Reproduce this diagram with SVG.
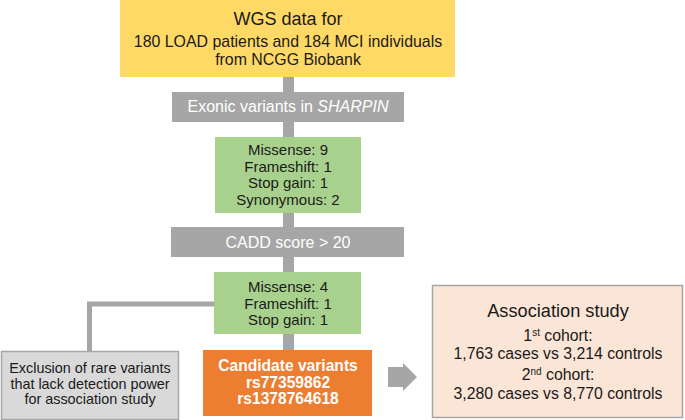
<svg xmlns="http://www.w3.org/2000/svg" width="685" height="420" viewBox="0 0 685 420">
<style>
text{font-family:"Liberation Sans",Arial,sans-serif;text-anchor:middle;fill:#1a1a1a}
.w{fill:#ffffff}
.b{font-weight:bold}
.bar{fill:#a6a6a6}
.con{stroke:#a6a6a6;fill:none}
</style>
<rect width="685" height="420" fill="#ffffff"/>
<g id="connectors">
<line class="con" x1="288.5" y1="77" x2="288.5" y2="350" stroke-width="11"/>
<polyline class="con" points="214,304 89.5,304 89.5,352" stroke-width="5"/>
<polygon class="bar" points="388,367 403,367 403,363 417,377 403,391 403,387 388,387"/>
</g>
<g id="wgs">
<rect x="120" y="0" width="335" height="77" fill="#ffd966"/>
<text x="288" y="25" font-size="18">WGS data for</text>
<text x="288" y="47" font-size="15.9">180 LOAD patients and 184 MCI individuals</text>
<text x="288" y="65" font-size="15.9">from NCGG Biobank</text>
</g>
<g id="exonic">
<rect class="bar" x="172" y="92" width="232" height="30"/>
<text class="w" x="288" y="112" font-size="16">Exonic variants in <tspan font-style="italic">SHARPIN</tspan></text>
</g>
<g id="variants1">
<rect x="215" y="137" width="146" height="76" fill="#a9d18e"/>
<text x="288" y="155" font-size="15">Missense: 9</text>
<text x="288" y="171.5" font-size="15">Frameshift: 1</text>
<text x="288" y="188" font-size="15">Stop gain: 1</text>
<text x="288" y="204.5" font-size="15">Synonymous: 2</text>
</g>
<g id="cadd">
<rect class="bar" x="171" y="227" width="233" height="30"/>
<text class="w" x="288" y="248" font-size="16">CADD score &gt; 20</text>
</g>
<g id="variants2">
<rect x="214" y="272" width="147" height="62" fill="#a9d18e"/>
<text x="288" y="292" font-size="15">Missense: 4</text>
<text x="288" y="308.5" font-size="15">Frameshift: 1</text>
<text x="288" y="325" font-size="15">Stop gain: 1</text>
</g>
<g id="exclusion">
<rect x="1.5" y="351.5" width="177" height="68" fill="#d9d9d9" stroke="#a6a6a6" stroke-width="1.5"/>
<text x="90" y="373" font-size="14.4" fill="#333">Exclusion of rare variants</text>
<text x="90" y="389" font-size="14.4" fill="#333">that lack detection power</text>
<text x="90" y="404" font-size="14.4" fill="#333">for association study</text>
</g>
<g id="candidate">
<rect x="203" y="350" width="169" height="66" fill="#ed7d31"/>
<text class="w b" x="288" y="371" font-size="15.6">Candidate variants</text>
<text class="w b" x="288" y="388" font-size="15.6">rs77359862</text>
<text class="w b" x="288" y="404" font-size="15.6">rs1378764618</text>
</g>
<g id="association">
<rect x="432.5" y="285.5" width="250" height="132" fill="#fbe5d6" stroke="#a6a6a6" stroke-width="1.5"/>
<text x="558" y="317" font-size="18.2">Association study</text>
<text x="558" y="341" font-size="15.8">1<tspan font-size="10" dy="-5">st</tspan><tspan dy="5"> cohort:</tspan></text>
<text x="558" y="359" font-size="15.8">1,763 cases vs 3,214 controls</text>
<text x="558" y="380" font-size="15.8">2<tspan font-size="10" dy="-5">nd</tspan><tspan dy="5"> cohort:</tspan></text>
<text x="558" y="399" font-size="15.8">3,280 cases vs 8,770 controls</text>
</g>
</svg>
